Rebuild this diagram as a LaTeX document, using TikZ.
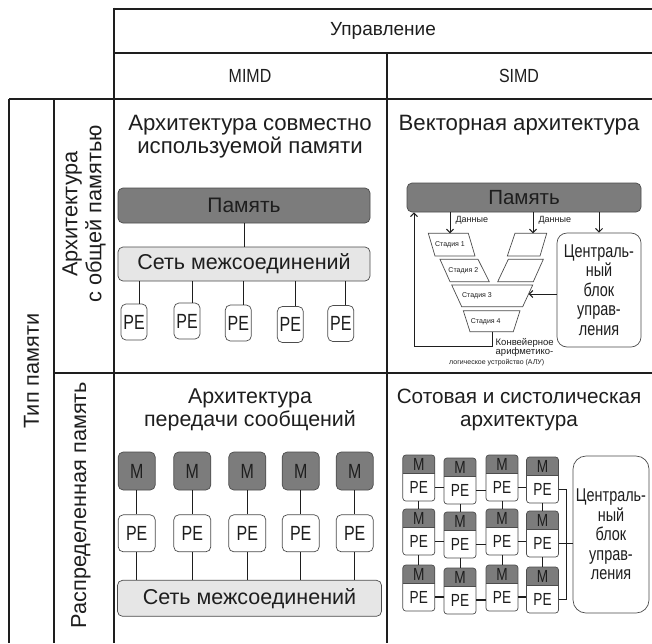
\documentclass[tikz,border=0pt]{standalone}
\usepackage{fontspec}
\setmainfont{Liberation Sans}
\newfontfamily\condfont[FakeStretch=0.78]{Liberation Sans}
\newfontfamily\hcondfont[FakeStretch=0.84]{Liberation Sans}
\usetikzlibrary{arrows.meta}
\definecolor{memgray}{RGB}{124,124,124}
\definecolor{netgray}{RGB}{230,230,230}
\definecolor{ink}{RGB}{30,30,30}
\tikzset{
  grid/.style={line width=1.5pt, draw=ink},
  hdr/.style={font=\fontsize{19}{22}\selectfont, text=ink},
  ttl/.style={font=\fontsize{22.2}{23}\selectfont, align=center, text=ink},
  vlbl/.style={rotate=90, font=\fontsize{21.7}{24}\selectfont, align=center, text=ink},
  boxline/.style={draw=black!70, line width=0.7pt},
  membox/.style={boxline, fill=memgray, rounded corners=5pt, inner sep=0pt, text=ink, font=\fontsize{21}{24}\selectfont},
  netbox/.style={boxline, fill=netgray, rounded corners=5pt, inner sep=0pt, text=ink, font=\fontsize{21.5}{24}\selectfont},
  pebox/.style={boxline, fill=white, rounded corners=5pt, inner sep=0pt, text=ink, font=\condfont\fontsize{20.5}{22}\selectfont},
  mbox/.style={pebox, fill=memgray},
  wire/.style={line width=1pt, draw=ink},
  thickwire/.style={line width=1.8pt, draw=ink},
  arr/.style={wire, -{Straight Barb[length=3.5pt,width=7pt]}},
  ctlbox/.style={boxline, fill=white, rounded corners=10pt, align=center, inner sep=0pt, text=ink, font=\condfont\fontsize{18.5}{19.5}\selectfont},
  stage/.style={boxline, fill=white},
  stagetxt/.style={font=\fontsize{7}{8}\selectfont, inner sep=0pt, text=ink},
  small/.style={font=\fontsize{9}{10}\selectfont, inner sep=0pt, text=ink},
  celltxt/.style={inner sep=0pt, minimum width=32pt, text=ink, font=\condfont\fontsize{17.5}{18}\selectfont},
  cell/.pic={
    \begin{scope}
      \clip[rounded corners=3pt] (-16,-32) rectangle (16,14);
      \fill[memgray] (-16,-32) rectangle (16,-14);
    \end{scope}
    \draw[boxline, rounded corners=3pt] (-16,-32) rectangle (16,14);
    \draw[boxline] (-16,-14) -- (16,-14);
    \node[celltxt, minimum height=18pt] (-m) at (0,-23) {M};
    \node[celltxt, minimum height=28pt] (-pe) at (0,0) {PE};
  }
}
\begin{document}
\begin{tikzpicture}[x=1pt,y=-1pt]
\useasboundingbox (0,0) rectangle (652,643);
\fill[white] (0,0) rectangle (652,643);

% ---------- table grid ----------
\draw[grid] (114,7.5) -- (114,643);
\draw[grid] (114,9) -- (652,9);
\draw[grid] (114,53) -- (652,53);
\draw[grid] (9,99) -- (652,99);
\draw[grid] (387,53) -- (387,643);
\draw[grid] (9,99) -- (9,643);
\draw[grid] (54,99) -- (54,643);
\draw[grid] (54,373) -- (652,373);

% ---------- headers ----------
\node[hdr] (upr) at (383,31) {Управление};
\node[hdr, font=\hcondfont\fontsize{19}{22}\selectfont] (mimd) at (250,76) {MIMD};
\node[hdr, font=\hcondfont\fontsize{19}{22}\selectfont] (simd) at (519,76) {SIMD};
\node[vlbl] (tip) at (31.5,371) {Тип памяти};
\node[vlbl] (shared) at (84,214) {Архитектура\\с общей памятью};
\node[vlbl] (distr) at (81,505) {Распределенная память};

% ---------- shared memory / MIMD ----------
\node[ttl] (t11) at (250,136.5) {Архитектура совместно\\используемой памяти};
\node[membox, minimum width=252pt, minimum height=35pt] (mem1) at (244,205.5) {Память};
\node[netbox, minimum width=252pt, minimum height=34pt] (net1) at (244,264) {Сеть межсоединений};
\draw[wire] (mem1) -- (net1);
\foreach \i/\x/\y in {1/134/322, 2/187/321, 3/238.3/323, 4/290.3/324.5, 5/340.8/323.5}{
  \node[pebox, minimum width=26pt, minimum height=36pt] (pa\i) at (\x,\y) {PE};
  \draw[wire] ([xshift=5pt]pa\i.north) -- ([xshift=5pt]pa\i.north |- net1.south);
}

% ---------- distributed memory / MIMD ----------
\node[ttl, font=\fontsize{21.4}{23}\selectfont] (t21) at (250,409.5) {Архитектура\\передачи сообщений};
\node[netbox, minimum width=264pt, minimum height=36pt] (net2) at (249.5,598.3) {Сеть межсоединений};
\foreach \i/\x in {1/136.7, 2/192.3, 3/247.3, 4/300.7, 5/354.7}{
  \node[mbox, minimum width=37pt, minimum height=38pt] (m\i) at (\x,471) {M};
  \node[pebox, minimum width=37pt, minimum height=37pt] (pb\i) at (\x,533.3) {PE};
  \draw[wire] (m\i) -- (pb\i);
  \draw[wire] (pb\i) -- (pb\i.south |- net2.north);
}

% ---------- vector architecture / SIMD ----------
\node[ttl] (t12) at (519,125) {Векторная архитектура};
\node[membox, minimum width=234pt, minimum height=29pt, font=\fontsize{20.5}{22}\selectfont] (mem2) at (524,197.5) {Память};
\node[ctlbox, minimum width=84pt, minimum height=114pt] (ctl1) at (599,290) {Централь-\\ный\\блок\\управ-\\ления};
\draw[stage] (428.3,233.3) -- (468.3,233.3) -- (475,256) -- (435,256) -- cycle;
\draw[stage] (440,259.3) -- (478,259.3) -- (489.3,281.7) -- (450,281.7) -- cycle;
\draw[stage] (515,233.3) -- (546.7,233.3) -- (540,256) -- (507.3,256) -- cycle;
\draw[stage] (508.3,259.3) -- (543.3,259.3) -- (533.3,281.7) -- (497.7,281.7) -- cycle;
\draw[stage] (451.7,285) -- (532.7,285) -- (522.7,306.7) -- (461.7,306.7) -- cycle;
\draw[stage] (463.3,310.7) -- (520,310.7) -- (513.3,331.7) -- (470,331.7) -- cycle;
\node[stagetxt] (st1) at (450,244.5) {Стадия 1};
\node[stagetxt] (st2) at (463.3,270.5) {Стадия 2};
\node[stagetxt] (st3) at (477,296) {Стадия 3};
\node[stagetxt] (st4) at (485.7,321.5) {Стадия 4};
\coordinate (s1t) at (450,233.3);
\coordinate (r1t) at (533,233.3);
\coordinate (s3r) at (528.6,294);
\coordinate (s4b) at (492.7,331.7);
\coordinate (fb) at (414,346);
\draw[arr] (mem2.south -| s1t) -- node[small, right=5pt, pos=0.4] (d1) {Данные} (s1t);
\draw[arr] (mem2.south -| r1t) -- node[small, right=5pt, pos=0.4] (d2) {Данные} (r1t);
\draw[arr] (mem2.south -| ctl1.north) -- (ctl1.north);
\draw[arr] (ctl1.west |- s3r) -- (s3r);
\draw[arr] (s4b) |- (fb) -- (mem2.south -| fb);
\node[small, anchor=west, font=\fontsize{9.5}{10}\selectfont] (alu1) at (495.5,342.5) {Конвейерное};
\node[small, anchor=west, font=\fontsize{9.5}{10}\selectfont] (alu2) at (495.5,352.5) {арифметико-};
\node[small, anchor=west, font=\fontsize{7}{8}\selectfont] (alu3) at (449,362.5) {логическое устройство (АЛУ)};

% ---------- systolic / SIMD ----------
\node[ttl, font=\fontsize{20.7}{23}\selectfont] (t22) at (519,409.5) {Сотовая и систолическая\\архитектура};
\node[ctlbox, minimum width=76pt, minimum height=157pt, rounded corners=13pt] (ctl2) at (611,534.5) {Централь-\\ный\\блок\\управ-\\ления};
\foreach \r/\y in {1/487, 2/541, 3/597}{
  \foreach \c/\x/\o in {1/418.8/0, 2/460/3, 3/502/0, 4/542.5/2}{
    \pic (c\r\c) at (\x,\y+\o) {cell};
  }
}
\foreach \r in {1,2}{
  \draw[wire] (c\r1-pe.east) -- (c\r1-pe.east -| c\r2-pe.west);
  \draw[wire] (c\r2-pe.east) -- (c\r2-pe.east -| c\r3-pe.west);
  \draw[wire] (c\r3-pe.east) -- (c\r3-pe.east -| c\r4-pe.west);
}
\draw[thickwire] (c31-pe.east) -- (c31-pe.east -| c32-pe.west);
\draw[thickwire] (c32-pe.east) -- (c32-pe.east -| c33-pe.west);
\draw[thickwire] (c33-pe.east) -- (c33-pe.east -| c34-pe.west);
\foreach \c in {1,2,3,4}{
  \draw[wire] (c1\c-pe.south) -- (c1\c-pe.south |- c2\c-m.north);
  \draw[wire] (c2\c-pe.south) -- (c2\c-pe.south |- c3\c-m.north);
}
\coordinate (bus) at (566.7,0);
\draw[wire] (c14-pe.east) -- (c14-pe.east -| bus) -- (c34-pe.east -| bus) -- (c34-pe.east);
\draw[wire] (c24-pe.east) -- (c24-pe.east -| ctl2.west);
\end{tikzpicture}
\end{document}
